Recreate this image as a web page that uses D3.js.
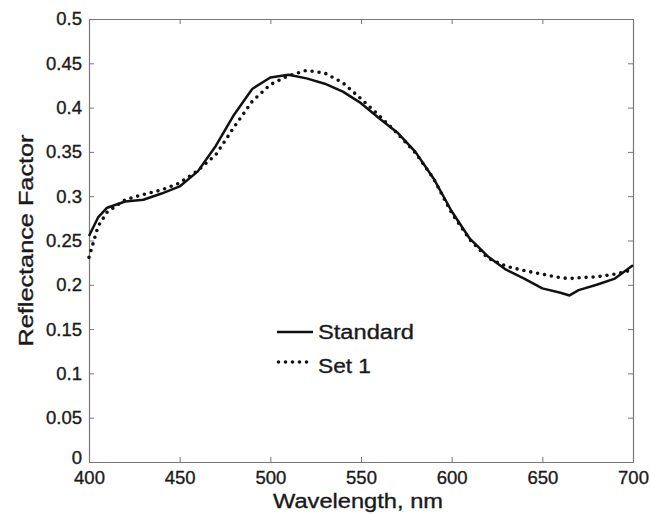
<!DOCTYPE html>
<html>
<head>
<meta charset="utf-8">
<script src="https://cdn.jsdelivr.net/npm/d3@7"></script>
<style>
  html, body { margin: 0; padding: 0; background: #fff; }
  svg text { font-family: "Liberation Sans", Arial, Helvetica, sans-serif; fill: #1a1a1a; stroke: #1a1a1a; stroke-width: 0.35px; }
  .axis path, .axis line { stroke: #777; }
</style>
</head>
<body>
<div id="chart"></div>
<script>
// Reflectance spectra: standard sample vs. reproduction "Set 1".
const wavelengths = [400, 405, 410, 420, 430, 440, 450, 460, 470, 480, 490, 500, 510, 520, 530, 540,
  550, 560, 570, 580, 590, 600, 610, 620, 630, 640, 650, 660, 665, 670, 680, 690, 700];
const standard = [0.255, 0.276, 0.287, 0.294, 0.296, 0.303, 0.311, 0.328, 0.357, 0.392, 0.421, 0.434,
  0.437, 0.433, 0.427, 0.418, 0.405, 0.388, 0.372, 0.350, 0.320, 0.283, 0.252, 0.232, 0.217, 0.207,
  0.196, 0.191, 0.188, 0.194, 0.200, 0.207, 0.222];
const set1 = [0.231, 0.266, 0.282, 0.296, 0.302, 0.307, 0.315, 0.329, 0.347, 0.378, 0.407, 0.426,
  0.436, 0.442, 0.439, 0.428, 0.410, 0.391, 0.371, 0.349, 0.320, 0.281, 0.251, 0.230, 0.221, 0.216,
  0.212, 0.208, 0.207, 0.208, 0.209, 0.212, 0.217];
const xTicks = [400, 450, 500, 550, 600, 650, 700];
const yTicks = [0, 0.05, 0.1, 0.15, 0.2, 0.25, 0.3, 0.35, 0.4, 0.45, 0.5];
const seriesNames = ["Standard", "Set 1"];

const width = 650, height = 514;
const m = { top: 19, right: 17, bottom: 52, left: 89 };
const iW = width - m.left - m.right, iH = height - m.top - m.bottom;

const x = d3.scaleLinear([400, 700], [0, iW]);
const y = d3.scaleLinear([0, 0.5], [iH, 0]);

const svg = d3.select("#chart").append("svg")
  .attr("width", width).attr("height", height);
const g = svg.append("g").attr("transform", `translate(${m.left},${m.top})`);

// Box with inward ticks on all four sides (MATLAB style).
const TK = 5;
const fmtY = (d) => (d === 0 ? "0" : String(+d.toFixed(2)));
g.append("g").attr("class", "axis").attr("transform", `translate(0,${iH})`)
  .call(d3.axisBottom(x).tickValues(xTicks).tickSizeInner(-TK).tickSizeOuter(0).tickPadding(9));
const left = g.append("g").attr("class", "axis")
  .call(d3.axisLeft(y).tickValues(yTicks).tickFormat(fmtY).tickSizeInner(-TK).tickSizeOuter(0).tickPadding(7));
g.append("g").attr("class", "axis")
  .call(d3.axisTop(x).tickValues(xTicks).tickFormat("").tickSizeInner(-TK).tickSizeOuter(0));
g.append("g").attr("class", "axis").attr("transform", `translate(${iW},0)`)
  .call(d3.axisRight(y).tickValues(yTicks).tickFormat("").tickSizeInner(-TK).tickSizeOuter(0));
g.selectAll(".axis .domain").attr("stroke", "#777").attr("stroke-width", 1.2);
g.selectAll(".axis text").attr("font-size", 18.5).attr("fill", "#1a1a1a");
// "0" sits a little above the corner, as in the original.
left.selectAll(".tick").filter((d) => d === 0).select("text").attr("dy", "0.1em");

// Curves
const pts = (vals) => wavelengths.map((w, i) => [w, vals[i]]);
const line = d3.line().x((p) => x(p[0])).y((p) => y(p[1]));
g.append("path").datum(pts(set1)).attr("d", line)
  .attr("fill", "none").attr("stroke", "#111").attr("stroke-width", 3.6)
  .attr("stroke-linecap", "round").attr("stroke-dasharray", "0 7");
g.append("path").datum(pts(standard)).attr("d", line)
  .attr("fill", "none").attr("stroke", "#111").attr("stroke-width", 2.5)
  .attr("stroke-linejoin", "round");

// Legend
const lg = g.append("g").attr("transform", `translate(${277 - m.left},${332 - m.top})`);
lg.append("line").attr("x1", 0).attr("x2", 36).attr("y1", 0).attr("y2", 0)
  .attr("stroke", "#111").attr("stroke-width", 2.5);
lg.append("line").attr("x1", 1.5).attr("x2", 30).attr("y1", 30).attr("y2", 30)
  .attr("stroke", "#111").attr("stroke-width", 3.6)
  .attr("stroke-linecap", "round").attr("stroke-dasharray", "0 7");
lg.append("text").attr("x", 41).attr("y", 7).attr("font-size", 20)
  .attr("textLength", 96).attr("lengthAdjust", "spacingAndGlyphs").text(seriesNames[0]);
lg.append("text").attr("x", 41).attr("y", 41).attr("font-size", 20)
  .attr("textLength", 53).attr("lengthAdjust", "spacingAndGlyphs").text(seriesNames[1]);

// Axis titles
svg.append("text").attr("text-anchor", "middle").attr("x", 358).attr("y", 508)
  .attr("font-size", 20).attr("textLength", 170).attr("lengthAdjust", "spacingAndGlyphs")
  .text("Wavelength, nm");
svg.append("text").attr("text-anchor", "middle")
  .attr("transform", `translate(33,${m.top + iH / 2}) rotate(-90)`)
  .attr("font-size", 20).attr("textLength", 212).attr("lengthAdjust", "spacingAndGlyphs")
  .text("Reflectance Factor");
</script>
</body>
</html>
